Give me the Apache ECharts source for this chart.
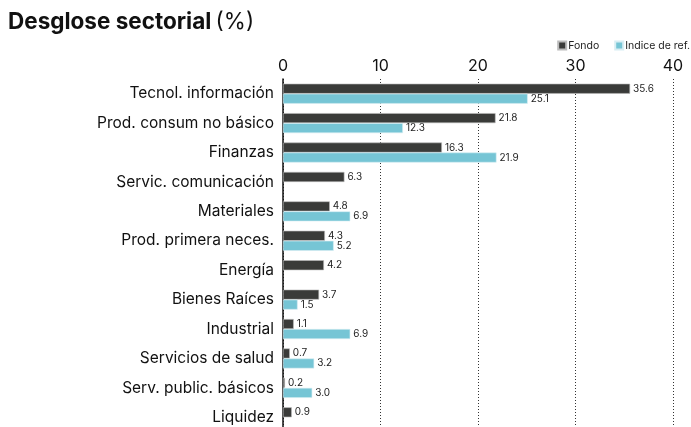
<!DOCTYPE html>
<html><head><meta charset="utf-8">
<script src="https://cdn.jsdelivr.net/npm/echarts@6/dist/echarts.min.js"></script>
<style>html,body{margin:0;padding:0;background:#fff;overflow:hidden}#c{width:691px;height:436px}</style>
</head><body><div id="c"></div>
<script>
const categories = ["Tecnol. información","Prod. consum no básico","Finanzas","Servic. comunicación","Materiales","Prod. primera neces.","Energía","Bienes Raíces","Industrial","Servicios de salud","Serv. public. básicos","Liquidez"];
const fondo = [35.6,21.8,16.3,6.3,4.8,4.3,4.2,3.7,1.1,0.7,0.2,0.9];
const indice = [25.1,12.3,21.9,null,6.9,5.2,null,1.5,6.9,3.2,3.0,null];
const xTicks = [0,10,20,30,40];
const font = "Inter, 'Liberation Sans', sans-serif";
const chart = echarts.init(document.getElementById('c'));
chart.setOption({
  animation:false,
  textStyle:{fontFamily:font},
  title:{text:'{b|Desglose sectorial} {r|(%)}',left:3,top:6,textStyle:{rich:{b:{fontSize:22.5,fontWeight:'bold',color:'#111',fontFamily:font},r:{fontSize:22.5,fontWeight:'normal',color:'#111',fontFamily:font}}}},
  legend:{right:1,top:40,padding:0,itemWidth:8,itemHeight:8,itemGap:15,icon:'rect',textStyle:{fontSize:10.5,color:'#222',padding:[0,0,0,-3]},data:['Fondo','Indice de ref.']},
  grid:{left:283,right:18,top:79,height:353,containLabel:false},
  xAxis:{type:'value',position:'top',min:0,max:40,interval:10,
    axisLine:{show:false},axisTick:{show:false},
    axisLabel:{fontSize:16,color:'#111',margin:5,formatter:v=>xTicks.includes(v)?String(v):''},
    splitLine:{show:true,lineStyle:{type:[1,2],color:'#333',width:1}}},
  yAxis:{type:'category',inverse:true,data:categories,
    axisLine:{show:true,onZero:false,lineStyle:{color:'#111',width:1.5}},axisTick:{show:false},
    axisLabel:{fontSize:15.5,color:'#111',margin:9}},
  series:[
    {name:'Fondo',type:'bar',data:fondo,barWidth:10,barGap:'0%',
      itemStyle:{color:'#3a3b39',borderColor:'#bbb',borderWidth:0.6},
      label:{show:true,position:'right',distance:3,fontSize:10,color:'#222',formatter:p=>p.value.toFixed(1)}},
    {name:'Indice de ref.',type:'bar',data:indice,barWidth:10,
      itemStyle:{color:'#76c5d5',borderColor:'#d8eef3',borderWidth:0.6},
      label:{show:true,position:'right',distance:3,fontSize:10,color:'#222',formatter:p=>p.value==null?'':p.value.toFixed(1)}}
  ]
});
</script></body></html>
